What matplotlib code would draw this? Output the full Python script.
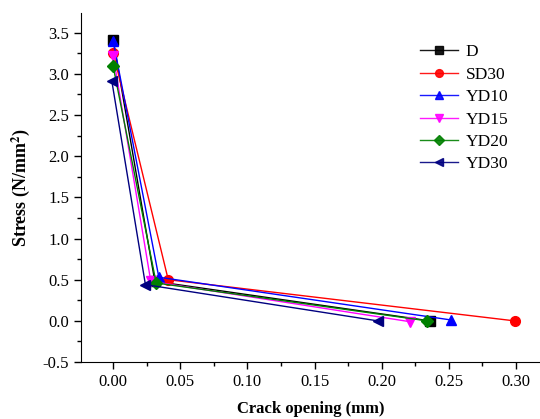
import numpy as np
import matplotlib.pyplot as plt
from matplotlib.ticker import MultipleLocator

plt.rcParams['font.family'] = ['Liberation Serif', 'DejaVu Serif']
plt.rcParams['mathtext.fontset'] = 'stix'

# ---- datos
names = ['D', 'SD30', 'YD10', 'YD15', 'YD20', 'YD30']
crack = [
    [0.0, 0.031, 0.236],
    [0.0, 0.041, 0.299],
    [0.0, 0.034, 0.252],
    [0.0, 0.028, 0.221],
    [0.0, 0.032, 0.234],
    [-0.001, 0.024, 0.197],
]
stress = [
    [3.41, 0.48, 0.0],
    [3.26, 0.50, 0.0],
    [3.40, 0.53, 0.01],
    [3.22, 0.48, -0.01],
    [3.09, 0.46, 0.0],
    [2.91, 0.44, 0.0],
]
colors = ['black', 'red', 'blue', 'magenta', 'green', 'navy']
markers = ['s', 'o', '^', 'v', 'D', '<']

fig = plt.figure(figsize=(5.4, 4.19), dpi=100)
ax = fig.add_axes([0.15, 0.136, 0.85, 0.833])

for i in range(len(names)):
    ms = 6 if markers[i] == 'D' else 7
    ax.plot(crack[i], stress[i], color=colors[i], marker=markers[i],
            markersize=ms, linewidth=1, label=names[i])

ax.set_xlim(-0.024, 0.318)
ax.set_ylim(-0.5, 3.74)
ax.xaxis.set_major_locator(MultipleLocator(0.05))
ax.xaxis.set_minor_locator(MultipleLocator(0.025))
ax.yaxis.set_major_locator(MultipleLocator(0.5))
ax.yaxis.set_minor_locator(MultipleLocator(0.25))
ax.xaxis.set_major_formatter(plt.FormatStrFormatter('%.2f'))
ax.yaxis.set_major_formatter(plt.FormatStrFormatter('%.1f'))

ax.spines['top'].set_visible(False)
ax.spines['right'].set_visible(False)
ax.tick_params(which='major', length=5, width=1, labelsize=12)
ax.tick_params(which='minor', length=3, width=1)

ax.set_xlabel('Crack opening (mm)', fontsize=12, fontweight='bold', labelpad=8)
ax.set_ylabel(r'Stress (N/mm$^\mathbf{2}$)', fontsize=13, fontweight='bold', labelpad=8)

leg = ax.legend(loc='upper right', bbox_to_anchor=(0.965, 0.955), frameon=False,
                fontsize=12.5, handlelength=2.2, labelspacing=0.36,
                handletextpad=0.45, markerscale=0.8)
for h in leg.get_lines():
    h.set_alpha(0.9)

fig.savefig('out.png', dpi=100)
